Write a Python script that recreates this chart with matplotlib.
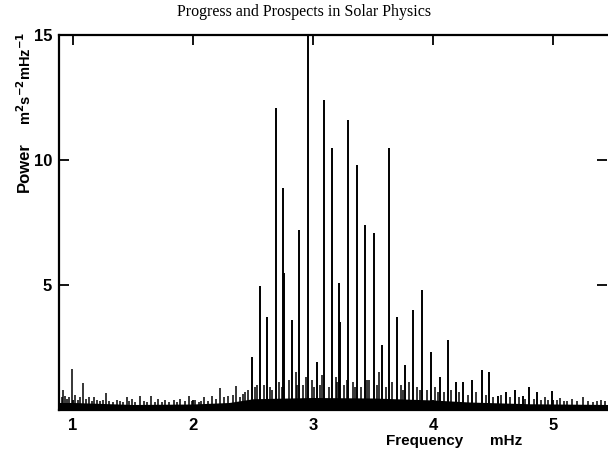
import matplotlib
matplotlib.use('Agg')
import matplotlib.pyplot as plt

# main p-mode peaks: frequency [mHz], power [m^2 s^-2 mHz^-1]
peak_freq = [2.489, 2.558, 2.619, 2.689, 2.753, 2.758, 2.828, 2.886, 2.961,
             3.030, 3.094, 3.161, 3.217, 3.225, 3.294, 3.369, 3.433, 3.508,
             3.572, 3.636, 3.697, 3.767, 3.836, 3.911, 3.981, 4.058, 4.122,
             4.189, 4.253, 4.328, 4.406, 4.469, 4.539, 4.606, 4.683, 4.747,
             4.803, 4.869, 4.989]
peak_power = [2.1, 4.96, 3.7, 12.1, 8.9, 5.5, 3.6, 7.2, 16.0,
              1.9, 12.4, 10.5, 5.1, 3.5, 11.6, 9.8, 7.4, 7.1,
              2.6, 10.5, 3.7, 1.8, 4.0, 4.8, 2.3, 1.3, 2.8,
              1.1, 1.1, 1.2, 1.6, 1.5, 0.56, 0.7, 0.8, 0.56,
              0.9, 0.7, 0.76]

# small spikes in the noise
spike_freq = [0.905, 0.919, 0.933, 0.95, 0.97, 0.994, 1.02, 1.04, 1.06, 1.086,
              1.11, 1.133, 1.155, 1.178, 1.20, 1.225, 1.25, 1.272, 1.30, 1.33,
              1.364, 1.39, 1.42, 1.447, 1.47, 1.492, 1.52, 1.558, 1.59, 1.62,
              1.65, 1.68, 1.711, 1.74, 1.767, 1.80, 1.844, 1.87, 1.892, 1.93,
              1.967, 1.99, 2.017, 2.05, 2.07, 2.094, 2.125, 2.158, 2.19, 2.225,
              2.26, 2.292, 2.33, 2.356, 2.39, 2.419, 2.433, 2.46, 2.52, 2.535,
              2.59, 2.64, 2.66, 2.72, 2.74, 2.80, 2.855, 2.87, 2.92, 2.94,
              2.99, 3.01, 3.06, 3.075, 3.13, 3.19, 3.20, 3.26, 3.28, 3.33,
              3.35, 3.40, 3.45, 3.47, 3.53, 3.55, 3.61, 3.66, 3.73, 3.75,
              3.80, 3.87, 3.89, 3.95, 4.02, 4.04, 4.09, 4.15, 4.22, 4.29,
              4.36, 4.44, 4.50, 4.57, 4.64, 4.72, 4.77, 4.84, 4.90, 4.93,
              4.96, 5.03, 5.06, 5.09, 5.12, 5.16, 5.20, 5.25, 5.29, 5.33,
              5.37, 5.40, 5.43]
spike_power = [0.5, 0.8, 0.55, 0.45, 0.5, 1.63, 0.6, 0.4, 0.5, 1.07,
               0.45, 0.5, 0.35, 0.5, 0.4, 0.35, 0.4, 0.67, 0.35, 0.3,
               0.4, 0.35, 0.3, 0.5, 0.35, 0.45, 0.3, 0.55, 0.35, 0.3,
               0.56, 0.3, 0.45, 0.3, 0.4, 0.3, 0.38, 0.3, 0.45, 0.35,
               0.56, 0.35, 0.4, 0.3, 0.35, 0.5, 0.35, 0.56, 0.45, 0.87,
               0.5, 0.55, 0.6, 0.96, 0.5, 0.65, 0.7, 0.8, 0.9, 1.0,
               1.0, 0.9, 0.8, 1.1, 0.9, 1.2, 1.5, 1.0, 1.0, 1.3,
               1.2, 0.9, 1.0, 1.4, 0.9, 1.3, 1.1, 1.0, 1.2, 1.1,
               0.9, 0.9, 1.2, 1.2, 1.0, 1.5, 0.9, 1.1, 1.0, 0.8,
               1.1, 0.9, 0.8, 0.8, 0.9, 0.7, 0.7, 0.8, 0.7, 0.6,
               0.7, 0.6, 0.5, 0.6, 0.5, 0.5, 0.45, 0.45, 0.4, 0.5,
               0.4, 0.4, 0.48, 0.35, 0.35, 0.44, 0.35, 0.5, 0.35, 0.3,
               0.35, 0.4, 0.35]

# dense noise floor envelope
floor_freq = [0.88, 1.0, 1.5, 2.0, 2.3, 2.5, 3.0, 3.5, 4.0, 4.3, 4.8, 5.46]
floor_level = [0.3, 0.3, 0.22, 0.24, 0.3, 0.45, 0.5, 0.48, 0.4, 0.32, 0.25, 0.22]

title = 'Progress and Prospects in Solar Physics'

dpi = 100
fig = plt.figure(figsize=[6.08, 4.5], dpi=dpi)
ax = fig.add_axes([0.097, 0.0889, 0.9014, 0.8333])

ax.fill_between(floor_freq, 0, floor_level, color='k', lw=0)
ax.vlines(spike_freq, 0, spike_power, color='k', lw=1.1)
ax.vlines(peak_freq, 0, peak_power, color='k', lw=1.4)

ax.set_xlim(0.883, 5.45)
ax.set_ylim(0, 15)
ax.set_xticks([1, 2, 3, 4, 5])
ax.set_yticks([5, 10, 15])

for s in ['left', 'top', 'bottom']:
    ax.spines[s].set_linewidth(1.6)
ax.spines['right'].set_visible(False)

ax.tick_params(axis='both', direction='in', length=7, width=1.3,
               top=True, right=True, labelsize=12)
ax.tick_params(axis='x', pad=6)
ax.tick_params(axis='y', pad=5)
for lab in ax.get_xticklabels() + ax.get_yticklabels():
    lab.set_fontfamily('Liberation Sans')
    lab.set_fontweight('bold')

fig.text(0.5, 0.973, title, ha='center', va='center',
         family='Liberation Serif', fontsize=11.5)

fig.text(0.040, 0.628, 'Power', rotation=90, ha='center', va='center',
         family='Liberation Sans', fontweight='bold', fontsize=12)
fig.text(0.040, 0.825, r'm$^{\mathbf{2}}$s$^{\mathbf{-2}}$mHz$^{\mathbf{-1}}$',
         rotation=90, ha='center', va='center',
         family='Liberation Sans', fontweight='bold', fontsize=10.5)

fig.text(0.699, 0.021, 'Frequency', ha='center', va='center',
         family='Liberation Sans', fontweight='bold', fontsize=11)
fig.text(0.832, 0.021, 'mHz', ha='center', va='center',
         family='Liberation Sans', fontweight='bold', fontsize=11)

plt.savefig('out.png', dpi=dpi)
